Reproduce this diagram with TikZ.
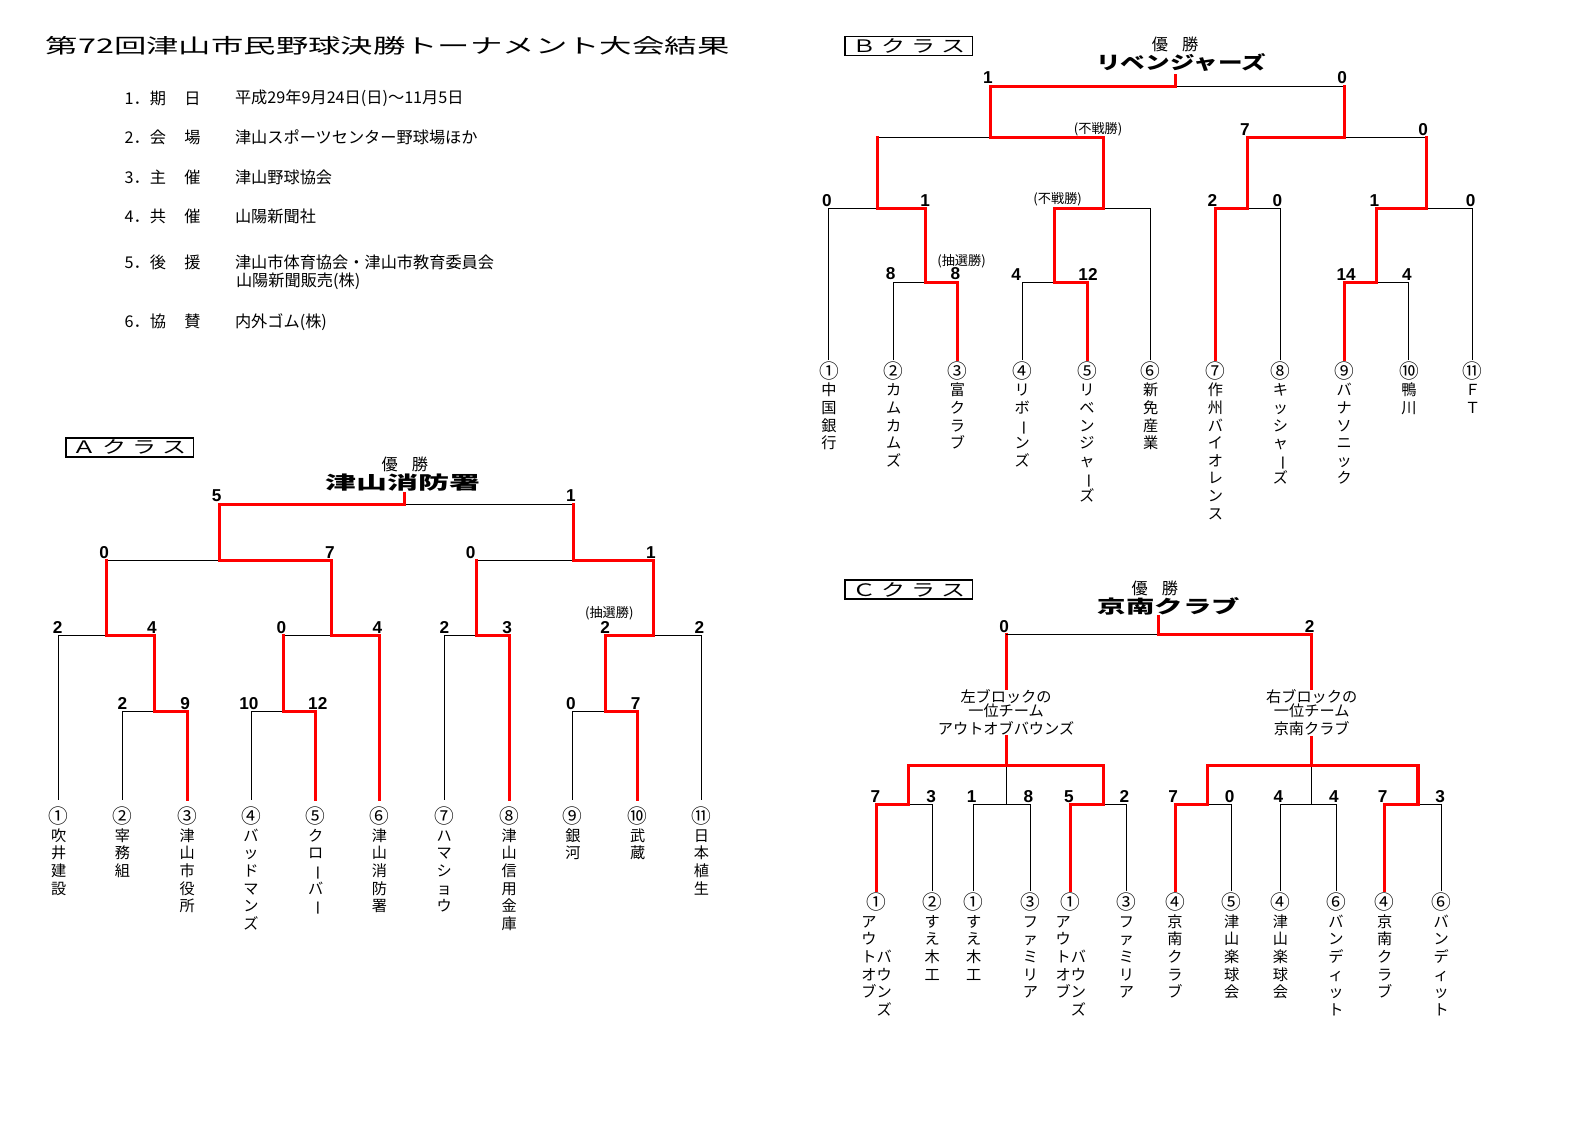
\documentclass[tikz,border=0pt]{standalone}
\usepackage{fontspec}
\usepackage{graphicx}
\setmainfont{Noto Sans CJK JP}
\newfontfamily\scorefont{Liberation Sans}
\definecolor{winred}{RGB}{255, 0, 0}
\usetikzlibrary{positioning}

% team names stacked one character per row, circled number on top
\makeatletter
\newcommand\vstack[2]{\vbox{\baselineskip=17.4pt\lineskiplimit=-20pt
    \hbox to 14pt{\hss\scalebox{1.3}{#1}\hss}\@tfor\vch:=#2\do{\hbox to 14pt{\hss\vch\hss}}}}
\newcommand\vleaf[2]{\expandafter\vleaf@swap\expandafter{#2}{#1}}
\def\vleaf@swap#1#2{\vstack{#2}{#1}}
\makeatother
\newcommand\vbar{\rotatebox[origin=c]{-90}{ー}}

\begin{document}
\begin{tikzpicture}[x=1pt, y=-1pt,
    win/.style={draw=winred, line width=3pt, line cap=rect},
    lose/.style={draw=black, line width=0.9pt, line cap=rect},
    score/.style={anchor=south, yshift=2pt, inner sep=0pt, font=\scorefont\bfseries\fontsize{17}{17}\selectfont},
    note/.style={inner sep=0pt, font=\fontsize{13}{13}\selectfont},
    leaf/.style={anchor=north, inner sep=0pt, font=\fontsize{15}{17}\selectfont},
    info/.style={anchor=west, inner sep=0pt, font=\fontsize{16}{18}\selectfont},
    classbox/.style={draw, line width=1.6pt, minimum width=126pt, minimum height=19pt, inner sep=0pt, font=\fontsize{17}{17}\selectfont},
    champ/.style={inner sep=0pt, font=\fontsize{16}{16}\selectfont},
    champname/.style={inner sep=0pt, font=\bfseries\fontsize{18}{18}\selectfont}]
    \useasboundingbox (0,0) rectangle (1568,1110);

    % Title and outline
    \node[anchor=west, inner sep=0pt, font=\fontsize{20}{20}\selectfont] (title) at (45,45)
        {\scalebox{1.6}[1]{第72回津山市民野球決勝トーナメント大会結果}};
    \foreach \y/\lab/\val [count=\k] in {97/1．期\hspace{18pt}日/平成29年9月24日(日)～11月5日,
        136/2．会\hspace{18pt}場/津山スポーツセンター野球場ほか,
        175/3．主\hspace{18pt}催/津山野球協会,
        214/4．共\hspace{18pt}催/山陽新聞社,
        259/5．後\hspace{18pt}援/津山市体育協会・津山市教育委員会,
        318/6．協\hspace{18pt}賛/内外ゴム(株)} {
        \node[info] (lab\k) at (123,\y) {\lab};
        \node[info] (val\k) at (232,\y) {\val};
    }
    \node[info] (val5b) at (233,278) {山陽新聞販売(株)};

    % ---------------- A class ----------------
    \node[classbox] (boxA) at (128,442) {\scalebox{1.4}[1]{Ａ\hspace{4pt}ク\hspace{4pt}ラ\hspace{4pt}ス}};
    \node[champ] (yuA) at (400,459) {優\hspace{14pt}勝};
    \node[champname] (winA) at (398,477) {\scalebox{1.7}[1]{津山消防署}};

    \foreach \i/\x/\num/\team in {1/58/①/吹井建設, 2/121/②/宰務組, 3/185/③/津山市役所, 4/248/④/バッドマンズ,
        5/312/⑤/クロ\vbar バ\vbar, 6/375/⑥/津山消防署, 7/439/⑦/ハマショウ, 8/503/⑧/津山信用金庫,
        9/566/⑨/銀河, 10/630/⑩/武蔵, 11/693/⑪/日本植生} {
        \coordinate (a\i) at (\x,790);
        \node[leaf] (ta\i) at (\x,797) {\vleaf{\num}{\team}};
    }
    \coordinate (a23) at (153,703);
    \coordinate (a45) at (280,703);
    \coordinate (a910) at (598,703);
    \coordinate (a123) at (105,628);
    \coordinate (a456) at (328,628);
    \coordinate (a78) at (471,628);
    \coordinate (a911) at (646,628);
    \coordinate (aL) at (217,554);
    \coordinate (aR) at (567,554);
    \coordinate (aF) at (400,498);
    \coordinate (aTop) at (400,488);

    % round 1
    \draw[lose] (a2) |- (a23);
    \draw[lose] (a4) |- (a45);
    \draw[lose] (a9) |- (a910);
    \draw[win] (a3) |- (a23);
    \draw[win] (a5) |- (a45);
    \draw[win] (a10) |- (a910);
    % round 2
    \draw[lose] (a1) |- (a123);
    \draw[lose] (a45 |- a456) -- (a456);
    \draw[lose] (a7) |- (a78);
    \draw[lose] (a11) |- (a911);
    \draw[win] (a23) |- (a123);
    \draw[win] (a45) -- (a45 |- a456);
    \draw[win] (a6) |- (a456);
    \draw[win] (a8) |- (a78);
    \draw[win] (a910) |- (a911);
    % round 3 and final
    \draw[lose] (a123 |- aL) -- (aL);
    \draw[lose] (a78 |- aR) -- (aR);
    \draw[lose] (aR |- aF) -- (aF);
    \draw[win] (a123) -- (a123 |- aL);
    \draw[win] (a456) |- (aL);
    \draw[win] (a78) -- (a78 |- aR);
    \draw[win] (a911) |- (aR);
    \draw[win] (aR) -- (aR |- aF);
    \draw[win] (aL) |- (aF) -- (aTop);

    \foreach \x/\y/\s [count=\k] in {214/498/5, 564/498/1, 103/554/0, 326/554/7, 465/554/0, 643/554/1,
        57/628/2, 150/628/4, 278/628/0, 373/628/4, 439/628/2, 501/628/3, 598/628/2, 691/628/2,
        121/703/2, 183/703/9, 246/703/10, 314/703/12, 564/703/0, 628/703/7} {
        \node[score] (sa\k) at (\x,\y) {\s};
    }
    \node[note] (drawA) at (602,606) {(抽選勝)};

    % ---------------- B class ----------------
    \node[classbox] (boxB) at (898,45.5) {\scalebox{1.4}[1]{Ｂ\hspace{4pt}ク\hspace{4pt}ラ\hspace{4pt}ス}};
    \node[champ] (yuB) at (1161,44) {優\hspace{14pt}勝};
    \node[champname] (winB) at (1167,62) {\scalebox{1.35}[1]{リベンジャーズ}};

    \foreach \i/\x/\num/\team in {1/819/①/中国銀行, 2/883/②/カムカムズ, 3/946/③/富クラブ, 4/1010/④/リボ\vbar ンズ,
        5/1074/⑤/リベンジャ\vbar ズ, 6/1137/⑥/新免産業, 7/1201/⑦/作州バイオレンス, 8/1265/⑧/キッシャ\vbar ズ,
        9/1328/⑨/バナソニック, 10/1392/⑩/鴨川, 11/1455/⑪/ＦＴ} {
        \coordinate (b\i) at (\x,355);
        \node[leaf] (tb\i) at (\x,357) {\vleaf{\num}{\team}};
    }
    \coordinate (b23) at (914,279);
    \coordinate (b45) at (1042,279);
    \coordinate (b910) at (1360,279);
    \coordinate (b123) at (867,206);
    \coordinate (b456) at (1090,206);
    \coordinate (b78) at (1233,206);
    \coordinate (b911) at (1409,206);
    \coordinate (bL) at (979,136);
    \coordinate (bR) at (1328,136);
    \coordinate (bF) at (1161,85);
    \coordinate (bTop) at (1161,75);

    % round 1
    \draw[lose] (b2) |- (b23);
    \draw[lose] (b4) |- (b45);
    \draw[lose] (b10) |- (b910);
    \draw[win] (b3) |- (b23);
    \draw[win] (b5) |- (b45);
    \draw[win] (b9) |- (b910);
    % round 2
    \draw[lose] (b1) |- (b123);
    \draw[lose] (b6) |- (b456);
    \draw[lose] (b8) |- (b78);
    \draw[lose] (b11) |- (b911);
    \draw[win] (b23) |- (b123);
    \draw[win] (b45) |- (b456);
    \draw[win] (b7) |- (b78);
    \draw[win] (b910) |- (b911);
    % round 3 and final
    \draw[lose] (b123 |- bL) -- (bL);
    \draw[lose] (b911 |- bR) -- (bR);
    \draw[lose] (bR |- bF) -- (bF);
    \draw[win] (b123) -- (b123 |- bL);
    \draw[win] (b456) |- (bL);
    \draw[win] (b911) -- (b911 |- bR);
    \draw[win] (b78) |- (bR);
    \draw[win] (bR) -- (bR |- bF);
    \draw[win] (bL) |- (bF) -- (bTop);

    \foreach \x/\y/\s [count=\k] in {976/85/1, 1326/85/0, 1230/136/7, 1406/136/0,
        817/206/0, 914/206/1, 1198/206/2, 1262/206/0, 1358/206/1, 1453/206/0,
        880/279/8, 944/279/8, 1004/279/4, 1075/279/12, 1330/279/14, 1390/279/4} {
        \node[score] (sb\k) at (\x,\y) {\s};
    }
    \node[note] (byeB1) at (1085,128) {(不戦勝)};
    \node[note] (byeB2) at (1045,197) {(不戦勝)};
    \node[note] (drawB) at (950,258) {(抽選勝)};

    % ---------------- C class ----------------
    \node[classbox] (boxC) at (898,582.5) {\scalebox{1.4}[1]{Ｃ\hspace{4pt}ク\hspace{4pt}ラ\hspace{4pt}ス}};
    \node[champ] (yuC) at (1141,581) {優\hspace{14pt}勝};
    \node[champname] (winC) at (1155,599) {\scalebox{1.56}[1]{京南クラブ}};

    \foreach \i/\x/\num/\team in {2/921/②/すえ木工, 3/962/①/すえ木工, 4/1018/③/ファミリア, 6/1113/③/ファミリア,
        7/1161/④/京南クラブ, 8/1217/⑤/津山楽球会, 9/1265/④/津山楽球会, 10/1320/⑥/バンディット,
        11/1368/④/京南クラブ, 12/1424/⑥/バンディット} {
        \coordinate (c\i) at (\x,880);
        \node[leaf] (tc\i) at (\x,882) {\vleaf{\num}{\team}};
    }
    \foreach \i/\x in {1/866, 5/1058} {
        \coordinate (c\i) at (\x,880);
        \node[leaf] (tc\i) at (\x,882)
            {\vstack{①}{{ア\hphantom{ア}}{ウ\hphantom{ウ}}{トバ}{オウ}{ブン}{\hphantom{ズ}ズ}}};
    }
    \coordinate (cm1) at (898,795);
    \coordinate (cm2) at (994,795);
    \coordinate (cm3) at (1090,795);
    \coordinate (cm4) at (1193,795);
    \coordinate (cm5) at (1296,795);
    \coordinate (cm6) at (1401,795);
    \coordinate (cLb) at (994,756);
    \coordinate (cRb) at (1296,756);
    \coordinate (cL) at (994,627);
    \coordinate (cR) at (1296,627);
    \coordinate (cF) at (1145,627);
    \coordinate (cTop) at (1145,609);

    \node[inner sep=1pt, align=center, font=\fontsize{15}{14}\selectfont] (lblk) at (994,704)
        {左ブロックの\\一位チーム\\[3pt]アウトオブバウンズ};
    \node[inner sep=1pt, align=center, font=\fontsize{15}{14}\selectfont] (rblk) at (1296,704)
        {右ブロックの\\一位チーム\\[3pt]京南クラブ};

    % block matches
    \draw[lose] (c2) |- (cm1);
    \draw[lose] (c3) |- (cm2) -| (c4);
    \draw[lose] (c6) |- (cm3);
    \draw[lose] (c8) |- (cm4);
    \draw[lose] (c9) |- (cm5) -| (c10);
    \draw[lose] (c12) |- (cm6);
    \draw[lose] (cm2) -- (cLb);
    \draw[lose] (cm5) -- (cRb);
    \draw[win] (c1) |- (cm1);
    \draw[win] (c5) |- (cm3);
    \draw[win] (c7) |- (cm4);
    \draw[win] (c11) |- (cm6);
    \draw[win] (cm1) |- (cLb) -| (cm3);
    \draw[win] (cm4) |- (cRb) -| (cm6);
    % block winners and final
    \draw[win] (cLb) -- (lblk.south);
    \draw[win] (cRb) -- (rblk.south);
    \draw[win] (lblk.north) -- (cL);
    \draw[lose] (cL) -- (cF);
    \draw[win] (rblk.north) -- (cR) -- (cF) -- (cTop);

    \foreach \x/\y/\s [count=\k] in {992/627/0, 1294/627/2,
        865/795/7, 920/795/3, 960/795/1, 1016/795/8, 1056/795/5, 1111/795/2,
        1159/795/7, 1215/795/0, 1263/795/4, 1318/795/4, 1366/795/7, 1423/795/3} {
        \node[score] (sc\k) at (\x,\y) {\s};
    }
\end{tikzpicture}
\end{document}
